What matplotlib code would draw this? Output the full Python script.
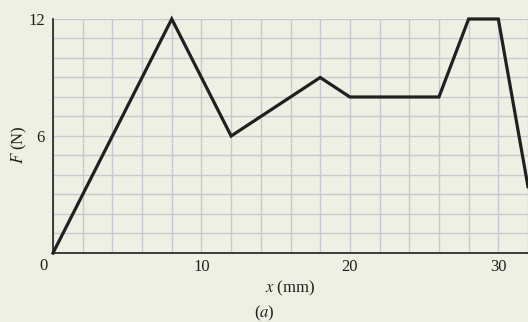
import numpy as np
import matplotlib
matplotlib.use('Agg')
import matplotlib.pyplot as plt

x_mm = [0, 8, 12, 18, 20, 26, 28, 30, 32]
f_n = [0, 12, 6, 9, 8, 8, 12, 12, 3.4]
x_ticks = [0, 10, 20, 30]
y_ticks = [0, 6, 12]

bg = '#eff0e4'
grid_col = '#c9c8cf'
ink = '#231f20'

plt.rcParams['font.family'] = ['Liberation Serif', 'DejaVu Serif']
plt.rcParams['mathtext.fontset'] = 'stix'

fig = plt.figure(figsize=(5.28, 3.22), dpi=100, facecolor=bg)
ax = fig.add_axes([0.1004, 0.2143, 0.8996, 0.7267], facecolor=bg)

ax.set_xlim(0, 32)
ax.set_ylim(0, 12)
ax.set_xticks(np.arange(0, 33, 2), minor=True)
ax.set_yticks(np.arange(0, 13, 1), minor=True)
ax.set_xticks(x_ticks)
ax.set_yticks(y_ticks)
ax.grid(which='both', color=grid_col, lw=1.0)
ax.set_axisbelow(True)

ax.plot(x_mm, f_n, color=ink, lw=2.3, solid_joinstyle='miter', clip_on=False)

# origin label sits in the corner, left of the axis
ax.set_xticklabels([''] + [str(t) for t in x_ticks[1:]])
ax.set_yticklabels(['', '6', '12'])
ax.annotate('0', xy=(0, 0), xytext=(-10, -13), textcoords='offset pixels',
            ha='center', va='center', fontsize=12, color=ink)
ax.tick_params(which='both', length=0, labelsize=12, colors=ink)
ax.tick_params(axis='x', pad=4)
ax.tick_params(axis='y', pad=6)

for s in ['top', 'right']:
    ax.spines[s].set_visible(False)
for s in ['left', 'bottom']:
    ax.spines[s].set_color(ink)
    ax.spines[s].set_linewidth(1.2)

ax.set_xlabel(r'$x$ (mm)', fontsize=12, color=ink, labelpad=3)
fig.text(0.036, 0.55, r'$F$ (N)', rotation=90, ha='center', va='center',
         fontsize=12, color=ink)
fig.text(0.5, 0.028, r'($a$)', ha='center', va='center', fontsize=12, color=ink)

fig.savefig('out.png', dpi=100, facecolor=bg)
